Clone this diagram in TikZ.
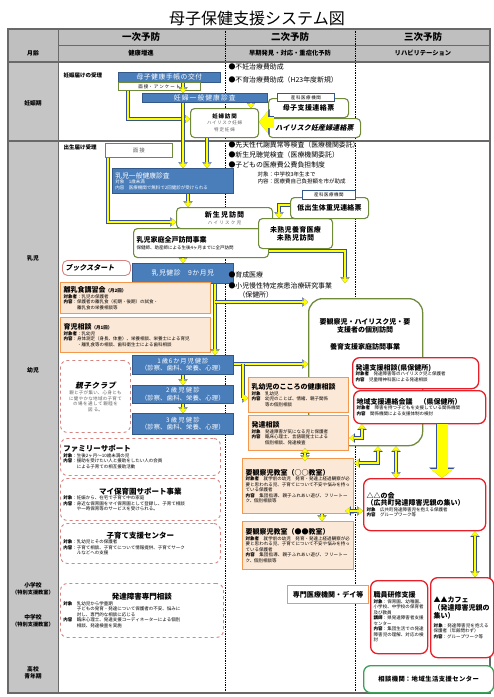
\documentclass[tikz,border=0pt]{standalone}
\usepackage{fontspec}
\setmainfont{Noto Sans CJK JP}
\newfontfamily\slantfont[FakeSlant=0.2]{Noto Sans CJK JP}
\XeTeXlinebreaklocale "ja"
\XeTeXlinebreakskip=0pt plus 0.5pt
\setlength{\parindent}{0pt}
\usetikzlibrary{arrows.meta, calc}

\definecolor{hdgray}{RGB}{191,191,191}
\definecolor{colgray}{RGB}{197,197,197}
\definecolor{rulegray}{RGB}{105,105,105}
\definecolor{bxblue}{RGB}{74,126,187}
\definecolor{bxedge}{RGB}{52,88,135}
\definecolor{olvedge}{RGB}{110,138,58}
\definecolor{orgedge}{RGB}{244,152,78}
\definecolor{peach}{RGB}{252,232,214}
\definecolor{pnkedge}{RGB}{214,132,130}
\definecolor{redge}{RGB}{232,30,40}
\definecolor{grnedge}{RGB}{60,160,90}
\definecolor{ylw}{RGB}{255,255,0}
\definecolor{yedge}{RGB}{52,80,150}
\definecolor{txgray}{RGB}{95,95,95}

\newcommand{\ttlf}{\fontsize{16}{18}\selectfont}
\newcommand{\hdrf}{\fontsize{9.5}{11}\selectfont}
\newcommand{\shdf}{\fontsize{6.3}{7.5}\selectfont}
\newcommand{\colf}{\fontsize{5.8}{7}\selectfont}
\newcommand{\colsf}{\fontsize{5.2}{6.2}\selectfont}
\newcommand{\bltf}{\fontsize{6.9}{8.2}\selectfont}
\newcommand{\bluf}{\fontsize{6.8}{8}\selectfont}
\newcommand{\labf}{\fontsize{7}{8.4}\selectfont}
\newcommand{\pnkf}{\fontsize{7.5}{9}\selectfont}
\newcommand{\smlf}{\fontsize{5.5}{6.6}\selectfont}
\newcommand{\tnyf}{\fontsize{4.5}{5.5}\selectfont}

\begin{document}
\begin{tikzpicture}[x=1pt, y=-1pt, font=\colf,
  bx/.style={anchor=north west, inner xsep=3pt, inner ysep=1pt, align=left},
  wh/.code 2 args={\pgfmathsetmacro{\boxtw}{#1-6}%
    \pgfkeysalso{minimum width=#1pt, minimum height=#2pt, text width=\boxtw pt}},
  blu/.style={bx, draw=bxedge, fill=bxblue, text=white, line width=0.7pt, font=\bluf},
  tagbox/.style={bx, draw=bxedge, fill=white, line width=0.8pt, inner ysep=0pt, font=\tnyf, align=center},
  olvbox/.style={bx, draw=olvedge, fill=white, rounded corners=4pt, line width=1.1pt},
  orgbox/.style={bx, draw=orgedge, fill=peach, line width=1.3pt, font=\tnyf},
  pnkbox/.style={bx, draw=pnkedge, fill=white, dashed, rounded corners=7pt, line width=0.9pt, font=\tnyf},
  redbox/.style={bx, draw=redge, fill=white, rounded corners=7pt, line width=1.3pt, font=\tnyf},
  grnbox/.style={bx, draw=grnedge, fill=white, rounded corners=7pt, line width=1.3pt},
  ya/.style={draw=ylw, line width=2.6pt, -{Triangle[length=4.5pt,width=7.5pt,line width=0.3pt]},
    preaction={draw=yedge, line width=3.8pt, -{Triangle[length=5.6pt,width=9.2pt,line width=0.3pt]}}},
  yaa/.style={draw=ylw, line width=2.6pt,
    {Triangle[length=4.5pt,width=7.5pt,line width=0.3pt]}-{Triangle[length=4.5pt,width=7.5pt,line width=0.3pt]},
    preaction={draw=yedge, line width=3.8pt,
    {Triangle[length=5.6pt,width=9.2pt,line width=0.3pt]}-{Triangle[length=5.6pt,width=9.2pt,line width=0.3pt]}}},
  bigy/.style={draw=ylw, line width=11pt, -{Triangle[length=9pt,width=23pt,line width=0.3pt]},
    preaction={draw=yedge, line width=12.4pt, -{Triangle[length=10.4pt,width=25.5pt,line width=0.3pt]}}},
]
% ---------- frame and headings ----------
\fill[white] (0,0) rectangle (494,697);
\useasboundingbox (0,0) rectangle (494,697);
\node[font=\ttlf] (title) at (257,18) {母子保健支援システム図};
\fill[hdgray] (8,29) rectangle (490,62);
\fill[colgray] (8,62) rectangle (58,693);
\draw[densely dotted, line width=0.7pt] (225,29) -- (225,693);
\draw[densely dotted, line width=0.7pt] (355,29) -- (355,693);
\draw[rulegray, line width=0.6pt] (58,45) -- (490,45);
\draw[rulegray, line width=1.2pt] (8,62) -- (490,62);
\draw[rulegray, line width=1.6pt] (8,141) -- (490,141);
\draw[rulegray, line width=0.9pt] (58,29) -- (58,693);
\draw[rulegray, line width=1.4pt] (8,29) rectangle (490,693);
\node[font=\hdrf\bfseries] (yobo1) at (141,37) {一次予防};
\node[font=\hdrf\bfseries] (yobo2) at (290,37) {二次予防};
\node[font=\hdrf\bfseries] (yobo3) at (423,37) {三次予防};
\node[font=\shdf\bfseries] (sub1) at (141,53.5) {健康増進};
\node[font=\shdf\bfseries] (sub2) at (290,53.5) {早期発見・対応・重症化予防};
\node[font=\shdf\bfseries] (sub3) at (423,53.5) {リハビリテーション};
% left column
\node[font=\colf\bfseries] (getsurei) at (33,53) {月齢};
\node[font=\colf\bfseries] (ninshinki) at (33,103) {妊娠期};
\node[font=\colf\bfseries] (nyuji) at (33,258) {乳児};
\node[font=\colf\bfseries] (youji) at (33,370) {幼児};
\node[font=\colf\bfseries, align=center] (shogakko) at (33,589) {小学校\\{\colsf （特別支援教室）}};
\node[font=\colf\bfseries, align=center] (chugakko) at (33,621) {中学校\\{\colsf （特別支援教室）}};
\node[font=\colf\bfseries, align=center] (koukou) at (33,673) {高校\\青年期};

% ---------- 妊娠期 ----------
\node[anchor=west, font=\smlf\bfseries] (todoke1) at (60,75) {妊娠届けの受理};
\node[blu, wh={102}{10}, align=center, inner ysep=0pt] (techo) at (118,72) {母子健康手帳の交付};
\node[bx, wh={82}{8}, draw=olvedge, fill=white, line width=0.7pt, inner ysep=0pt, align=center, font=\tnyf] (mensetsu1) at (118,82) {面接・アンケート};
\node[blu, wh={125}{9}, align=center, inner ysep=0pt] (ninpukenshin) at (142,93) {妊婦一般健康診査};
\node[olvbox, wh={68}{29}, align=center] (ninpuhoumon) at (190,108) {{\smlf\bfseries 妊婦訪問}\\{\tnyf\color{txgray}ハイリスク妊婦\\特定妊婦}};
\node[olvbox, wh={80}{19}, align=center, font=\labf\bfseries] (boshirenraku) at (268,98) {母子支援連絡票};
\node[tagbox, wh={57}{8}] (sanka1) at (277,93) {産科医療機関};
\node[olvbox, wh={92}{19}, align=center, font=\labf\slantfont\bfseries] (highrisk) at (268,118) {ハイリスク妊産婦連絡票};
\node[anchor=west, font=\bltf] (fuinin) at (225,67) {●不妊治療費助成};
\node[anchor=west, font=\bltf] (fuiku) at (225,80) {●不育治療費助成（H23年度新規）};

% ---------- 乳児 ----------
\node[anchor=west, font=\smlf\bfseries] (todoke2) at (60,147) {出生届け受理};
\node[bx, wh={67}{14}, draw=olvedge, fill=white, line width=0.8pt, align=center, font=\smlf\color{txgray}] (mensetsu2) at (105,143) {面接};
\node[anchor=west, font=\bltf] (taisha) at (225,145) {●先天性代謝異常等検査（医療機関委託）};
\node[anchor=west, font=\bltf] (choukaku) at (225,155) {●新生児聴覚検査（医療機関委託）};
\node[anchor=west, font=\bltf] (iryouhi) at (225,164.5) {●子どもの医療費公費負担制度};
\node[anchor=west, font=\smlf] (iryouhi1) at (254,174) {対象：中学校3年生まで};
\node[anchor=west, font=\smlf] (iryouhi2) at (254,181.5) {内容：医療費自己負担額を市が助成};
\node[blu, wh={121}{25}, font=\tnyf] (nyujikenshin) at (112,168) {{\bluf 乳児一般健康診査}\\対象　1歳未満\\内容　医療機関で無料で2回健診が受けられる};
\node[olvbox, wh={135}{29}] (zenko) at (133,228) {{\labf\bfseries 乳児家庭全戸訪問事業}\\{\tnyf 保健師、助産師による生後4ヶ月までに全戸訪問}};
\node[olvbox, wh={96}{21}, align=center] (shinseiji) at (176,207) {{\labf\bfseries 新生児訪問}\\{\tnyf\color{txgray}ハイリスク児}};
\node[olvbox, wh={74}{30}, align=center, font=\labf\bfseries] (mijuku) at (258,218) {未熟児養育医療\\未熟児訪問};
\node[olvbox, wh={78}{21}, align=center, font=\labf\bfseries] (teishussei) at (290,197) {低出生体重児連絡票};
\node[tagbox, wh={53}{9}] (sanka2) at (302,190) {産科医療機関};
\node[blu, wh={101}{20}, align=center] (nyuji9) at (132,263) {乳児健診　9か月児};
\node[bx, wh={68}{15}, draw=pnkedge, fill=white, rounded corners=5pt, line width=0.9pt, inner ysep=0pt, font=\labf\slantfont\bfseries] (bookstart) at (62,260) {ブックスタート};
\node[orgbox, wh={150}{31}] (rinyu) at (60,282) {{\labf\bfseries 離乳食講習会}{\tnyf\bfseries（月2回）}\\{\bfseries 対象者}：乳児の保護者\\{\bfseries 内容}：保護者の離乳食（初期・後期）の試食・\\\hspace*{3em}離乳食の栄養相談等};
\node[orgbox, wh={150}{35}] (ikuji) at (60,317) {{\labf\bfseries 育児相談}{\tnyf\bfseries（月1回）}\\{\bfseries 対象者}：乳幼児\\{\bfseries 内容}：身体測定（身長、体重）、栄養相談、栄養士による育児\\\hspace*{3em}・離乳食等の相談、歯科衛生士による歯科相談};
\node[anchor=west, font=\bltf] (ikusei) at (225,275) {●育成医療};
\node[anchor=west, font=\bltf] (shoman) at (225,286) {●小児慢性特定疾患治療研究事業};
\node[anchor=west, font=\bltf] (hokenjo) at (235,295) {（保健所）};
% big olive box, text set on its upper part
\node[bx, draw=olvedge, fill=white, rounded corners=14pt, line width=1.3pt, minimum width=114pt, minimum height=147pt] (youkansatsu) at (308,298) {};
\node[font=\labf\bfseries, align=center] (youkansatsutxt) at (365,334) {要観察児・ハイリスク児・要\\支援者の個別訪問\\[8pt]養育支援家庭訪問事業};

% ---------- 幼児 ----------
\node[blu, wh={101}{19}, align=center, font=\shdf] (kenshin16) at (132,355) {1歳6か月児健診\\（診察、歯科、栄養、心理）};
\node[blu, wh={101}{18}, align=center, font=\shdf] (kenshin2) at (132,385) {2歳児健診\\（診察、歯科、栄養、心理）};
\node[blu, wh={101}{21}, align=center, font=\shdf] (kenshin3) at (132,413) {3歳児健診\\（診察、歯科、栄養、心理）};
\node[pnkbox, wh={70}{72}, align=center] (oyako) at (60,360) {{\pnkf\slantfont\bfseries 親子クラブ}\\[1pt]{\color{txgray}親と子が集い、心身とも\\に健やかな地域の子育て\\の場を通して親睦を\\図る。}};
\node[pnkbox, wh={160}{37}] (family) at (60,438) {{\pnkf\bfseries ファミリーサポート}\\{\bfseries 対象}：生後2ヶ月〜10歳未満の児\\{\bfseries 内容}：援助を受けたい人と援助をしたい人の会員\\\hspace*{3em}による子育ての相互援助活動};
\node[pnkbox, wh={160}{42}] (myhoiku) at (60,478) {{\centering\pnkf\bfseries マイ保育園サポート事業\par}{\bfseries 対象}：妊娠から、在宅で子育て中の家庭\\{\bfseries 内容}：身近な保育園をマイ保育園として登録し、子育て相談\\\hspace*{3em}や一時保育等のサービスを受けられる。};
\node[pnkbox, wh={160}{40}] (kosodate) at (60,523) {{\centering\pnkf\bfseries 子育て支援センター\par}{\bfseries 対象}：乳幼児とその保護者\\{\bfseries 内容}：子育て相談、子育てについて情報提供、子育てサーク\\\hspace*{3em}ルなどへの支援};
\node[pnkbox, wh={163}{54}] (hattatsusenmon) at (60,583) {{\centering\pnkf\bfseries 発達障害専門相談\par}{\bfseries 対象}　乳幼児から学童期\\\hspace*{3em}子どもの発育・発達について保護者の不安、悩みに\\\hspace*{3em}対し、専門的な相談に応じる\\{\bfseries 内容}　臨床心理士、発達支援コーディネーターによる個別\\\hspace*{3em}相談、発達検査を実施};
\node[orgbox, wh={100}{35}] (kokoro) at (248,377) {{\labf\bfseries 乳幼児のこころの健康相談}\\{\bfseries 対象}\quad 乳幼児\\{\bfseries 内容}\quad 幼児のことば、情緒、親子関係\\\hspace*{3em}等の個別相談};
\node[orgbox, wh={100}{35}] (hattatsu) at (248,415) {{\labf\bfseries 発達相談}\\{\bfseries 対象}\quad 発達障害が気になる児と保護者\\{\bfseries 内容}\quad 臨床心理士、言語聴覚士による\\\hspace*{3em}個別相談、発達検査};
\node[orgbox, wh={111}{55}] (kyoushitsu1) at (242,458) {{\labf\bfseries 要観察児教室（○○教室）}\\{\bfseries 対象者}\quad 就学前の幼児　発育・発達上経過観察が必要と思われる児、子育てについて不安や悩みを持っている保護者\\{\bfseries 内容}\quad 集団指導、親子ふれあい遊び、フリートーク、個別相談等};
\node[orgbox, wh={111}{48}] (kyoushitsu2) at (242,521) {{\labf\bfseries 要観察児教室（●●教室）}\\{\bfseries 対象者}\quad 就学前の幼児　発育・発達上経過観察が必要と思われる児、子育てについて不安や悩みを持っている保護者\\{\bfseries 内容}\quad 集団指導、親子ふれあい遊び、フリートーク、個別相談等};
\node[redbox, wh={126}{31}] (hattatsushien) at (352,357) {{\labf\bfseries 発達支援相談(県保健所)}\\{\bfseries 対象者}\quad 発達障害等のハイリスク児と保護者\\{\bfseries 内容}\quad 児童精神科医による発達相談};
\node[redbox, wh={132}{33}] (chiiki) at (353,390) {{\labf\bfseries 地域支援連絡会議　（県保健所）}\\{\bfseries 対象者}\quad 障害を持つ子どもを支援している関係機関\\{\bfseries 内容}\quad 関係機関による支援体制の検討};
\node[redbox, wh={122}{52}] (sankai) at (363,478) {{\labf\bfseries △△の会\\（広共町発達障害児親の集い）}\\{\bfseries 対象}\quad 広共町発達障害児を抱える保護者\\{\bfseries 内容}\quad グループワーク等};

% ---------- 学童期以降 ----------
\node[bx, wh={81}{18}, draw=orgedge, fill=white, line width=1.3pt, align=center, font=\labf\bfseries] (senmon) at (287,585) {専門医療機関・デイ等};
\node[redbox, wh={57}{73}] (shokuin) at (370,580) {{\labf\bfseries 職員研修支援}\\{\bfseries 対象}：保育園、幼稚園、小学校、中学校の保育者及び教員\\{\bfseries 講師}：県発達障害者支援センター\\{\bfseries 内容}：集団生活での発達障害児の理解、対応の検討};
\node[redbox, wh={63}{80}] (cafe) at (430,577) {{\labf\bfseries ▲▲カフェ\\（発達障害児親の\\集い）}\\[3pt]{\bfseries 対象}：発達障害児を抱える保護者（年齢問わず）\\{\bfseries 内容}：グループワーク等};
\node[grnbox, wh={130}{27}, align=center, font=\shdf\bfseries] (soudan) at (363,665) {相談機関：地域生活支援センター};

% ---------- yellow connectors ----------
\coordinate (kyuuki) at (345,283);
\coordinate (br9) at (215,302);
\coordinate (kbend) at (243,364);
\draw[ya] (techo.south -| 183,0) -- (ninpukenshin.north -| 183,0);
\draw[ya] (mensetsu1.south -| 128,0) -- (128,119) -- (ninpuhoumon.west |- 0,119);
\draw[ya] (ninpukenshin.south -| 251,0) -- (ninpuhoumon.north -| 251,0);
\draw[ya] (ninpukenshin.south -| 183,0) -- (nyujikenshin.north -| 183,0);
\draw[ya] (ninpuhoumon.south -| 207,0) -- (nyujikenshin.north -| 207,0);
\draw[bigy] ($(highrisk.west |- 0,122)+(6,0)$) -- (ninpuhoumon.east |- 0,122);
\draw[ya] (mensetsu2.south -| 108,0) -- (108,222) -- (shinseiji.west |- 0,222);
\draw[ya] (nyujikenshin.south -| 188,0) -- (shinseiji.north -| 188,0);
\draw[ya] (teishussei.west |- 0,205) -- (279,205) -- (mijuku.north -| 279,0);
\draw[ya] (zenko.east |- 0,251) -- (345,251) -- (kyuuki);
\draw[ya] (zenko.south -| 183,0) -- (nyuji9.north -| 183,0);
\draw[ya] (nyuji9.south -| 215,0) -- (kenshin16.north -| 215,0);
\draw[ya] (br9) -- (youkansatsu.west |- br9);
\draw[ya] (kenshin16.south -| 183,0) -- (kenshin2.north -| 183,0);
\draw[ya] (kenshin2.south -| 183,0) -- (kenshin3.north -| 183,0);
\draw[ya] (kenshin16.east |- kbend) -- (kbend) -- (youkansatsu.west |- kbend);
\draw[ya] (kbend) -- (243,398) -- (kokoro.west |- 0,398);
\draw[yaa] ($(hattatsu.south -| 305,0)+(0,-3)$) -- ($(kyoushitsu1.north -| 305,0)+(0,3)$);
\draw[ya] (kyoushitsu1.south -| 322,0) -- (kyoushitsu2.north -| 322,0);
\draw[yaa] (chiiki.south -| 362,0) -- (362,438) -- (hattatsu.east |- 0,438);
\draw[yaa] (youkansatsu.south -| 378,0) -- (378,463) -- (kyoushitsu1.east |- 0,463);
\draw[yaa] (youkansatsu.south -| 396,0) -- (sankai.north -| 396,0);
\draw[yaa] ($(kyoushitsu1.east |- 0,511)+(-9,0)$) -- (sankai.west |- 0,511);
\draw[bigy] (chiiki.south -| 442,0) -- (sankai.north -| 442,0);
\draw[yaa] (sankai.south -| 475,0) -- (cafe.north -| 475,0);
\end{tikzpicture}
\end{document}
